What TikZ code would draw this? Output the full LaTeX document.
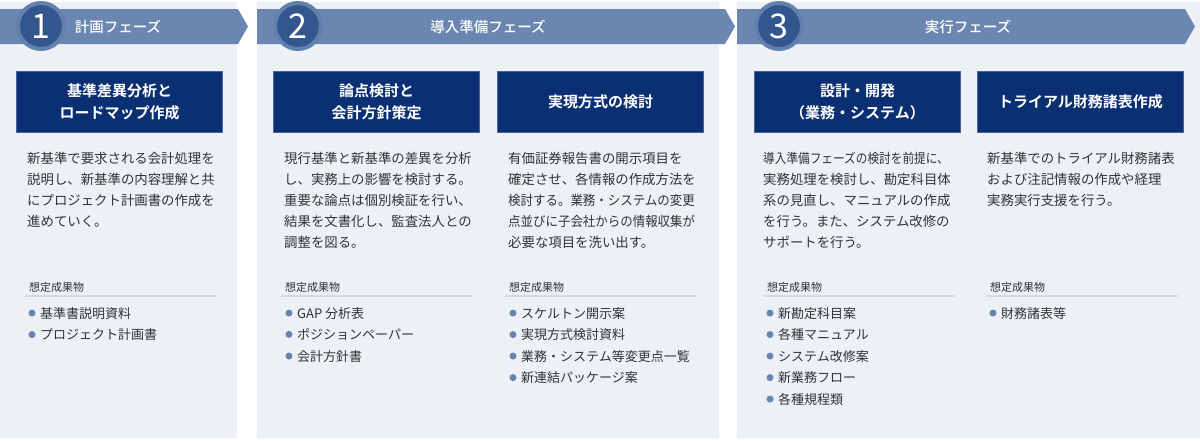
\documentclass[tikz,border=0pt]{standalone}
\usepackage{fontspec}
\setmainfont{Noto Sans CJK JP}[BoldFont={Noto Sans CJK JP Bold}]
\newfontfamily\phasefont{Noto Sans CJK JP Medium}

\definecolor{panelbg}{HTML}{EDF0F4}
\definecolor{bannerblue}{HTML}{6B87B1}
\definecolor{ringblue}{HTML}{6280AD}
\definecolor{numblue}{HTML}{34568E}
\definecolor{navy}{HTML}{0B2F73}
\definecolor{bodygray}{HTML}{333333}
\definecolor{rulegray}{HTML}{D6DAE1}
\definecolor{dotblue}{HTML}{6983B0}

\tikzset{
  panel/.style={fill=panelbg},
  banner/.style={fill=bannerblue},
  numring/.style={circle, fill=numblue, draw=ringblue, line width=4pt,
    minimum size=46pt, inner sep=0pt, text=white, font=\fontsize{34}{34}\selectfont},
  phasetitle/.style={text=white, font=\phasefont\fontsize{14.5}{16}\selectfont},
  titlebox/.style={anchor=north west, fill=navy, draw=navy!75!white, line width=1pt,
    minimum width=206pt, minimum height=61pt, align=center, text=white,
    font=\bfseries\fontsize{15}{22}\selectfont},
  bodytext/.style={anchor=base west, inner sep=0pt, text width=200pt, align=left,
    text=bodygray, font=\fontsize{13.4}{21}\selectfont},
  delivhead/.style={anchor=base west, inner sep=0pt, text=bodygray,
    font=\fontsize{11}{13}\selectfont},
  item/.style={anchor=base west, inner sep=0pt, text=bodygray,
    font=\fontsize{13}{15}\selectfont},
  dot/.style={fill=dotblue},
  rule/.style={draw=rulegray, line width=1.5pt}
}

\begin{document}
\begin{tikzpicture}[x=1pt,y=-1pt]
\useasboundingbox (0,0) rectangle (1200,440);

% panels
\fill[panel] (0,2) rectangle (237,438);
\fill[panel] (257,2) rectangle (719,438);
\fill[panel] (737,2) rectangle (1200,438);

% phase banners
\fill[banner] (0,9) -- (238,9) -- (248,26.5) -- (238,44) -- (0,44) -- cycle;
\fill[banner] (257,9) -- (725,9) -- (735,26.5) -- (725,44) -- (257,44) -- cycle;
\fill[banner] (737,9) -- (1185,9) -- (1195,26.5) -- (1185,44) -- (737,44) -- cycle;
\node[numring] (num1) at (41,26) {1};
\node[numring] (num2) at (298,26) {2};
\node[numring] (num3) at (779,26) {3};
\node[phasetitle] (ph1) at (118,27) {計画フェーズ};
\node[phasetitle] (ph2) at (488,27) {導入準備フェーズ};
\node[phasetitle] (ph3) at (968,27) {実行フェーズ};

% phase 1
\node[titlebox] (box1) at (16,71) {基準差異分析と\\ロードマップ作成};
\node[bodytext] (txt1) at (27,163) {新基準で要求される会計処理を\\説明し、新基準の内容理解と共\\にプロジェクト計画書の作成を\\進めていく。};
\node[delivhead] (hd1) at (29,291) {想定成果物};
\draw[rule] (25,296) -- (216,296);
\foreach \t [count=\i] in {基準書説明資料,プロジェクト計画書}{
  \node[item] (it1-\i) at (40,{318+21.5*(\i-1)}) {\t};
  \fill[dot] (it1-\i.west) ++(-8,0) circle (3.5);
}

% phase 2
\node[titlebox] (box2a) at (273,71) {論点検討と\\会計方針策定};
\node[titlebox] (box2b) at (497,71) {実現方式の検討};
\node[bodytext] (txt2a) at (284,163) {現行基準と新基準の差異を分析\\し、実務上の影響を検討する。\\重要な論点は個別検証を行い、\\結果を文書化し、監査法人との\\調整を図る。};
\node[bodytext] (txt2b) at (508,163) {有価証券報告書の開示項目を\\確定させ、各情報の作成方法を\\\scalebox{0.93}[1]{検討する。業務・システムの変更}\\\scalebox{0.93}[1]{点並びに子会社からの情報収集が}\\必要な項目を洗い出す。};
\node[delivhead] (hd2a) at (285,291) {想定成果物};
\node[delivhead] (hd2b) at (509,291) {想定成果物};
\draw[rule] (281,296) -- (473,296);
\draw[rule] (505,296) -- (697,296);
\foreach \t [count=\i] in {GAP 分析表,ポジションペーパー,会計方針書}{
  \node[item] (it2a-\i) at (297,{318+21.5*(\i-1)}) {\t};
  \fill[dot] (it2a-\i.west) ++(-8,0) circle (3.5);
}
\foreach \t [count=\i] in {スケルトン開示案,実現方式検討資料,業務・システム等変更点一覧,新連結パッケージ案}{
  \node[item] (it2b-\i) at (521,{318+21.5*(\i-1)}) {\t};
  \fill[dot] (it2b-\i.west) ++(-8,0) circle (3.5);
}

% phase 3
\node[titlebox] (box3a) at (754,71) {設計・開発\\（業務・システム）};
\node[titlebox] (box3b) at (977,71) {トライアル財務諸表作成};
\node[bodytext] (txt3a) at (763,163) {\scalebox{0.87}[1]{導入準備フェーズの検討を前提に、}\\実務処理を検討し、勘定科目体\\系の見直し、マニュアルの作成\\を行う。また、システム改修の\\サポートを行う。};
\node[bodytext] (txt3b) at (987,163) {新基準でのトライアル財務諸表\\および注記情報の作成や経理\\実務実行支援を行う。};
\node[delivhead] (hd3a) at (767,291) {想定成果物};
\node[delivhead] (hd3b) at (990,291) {想定成果物};
\draw[rule] (763,296) -- (955,296);
\draw[rule] (986,296) -- (1178,296);
\foreach \t [count=\i] in {新勘定科目案,各種マニュアル,システム改修案,新業務フロー,各種規程類}{
  \node[item] (it3a-\i) at (778,{318+21.5*(\i-1)}) {\t};
  \fill[dot] (it3a-\i.west) ++(-8,0) circle (3.5);
}
\foreach \t [count=\i] in {財務諸表等}{
  \node[item] (it3b-\i) at (1001,{318+21.5*(\i-1)}) {\t};
  \fill[dot] (it3b-\i.west) ++(-8,0) circle (3.5);
}
\end{tikzpicture}
\end{document}
